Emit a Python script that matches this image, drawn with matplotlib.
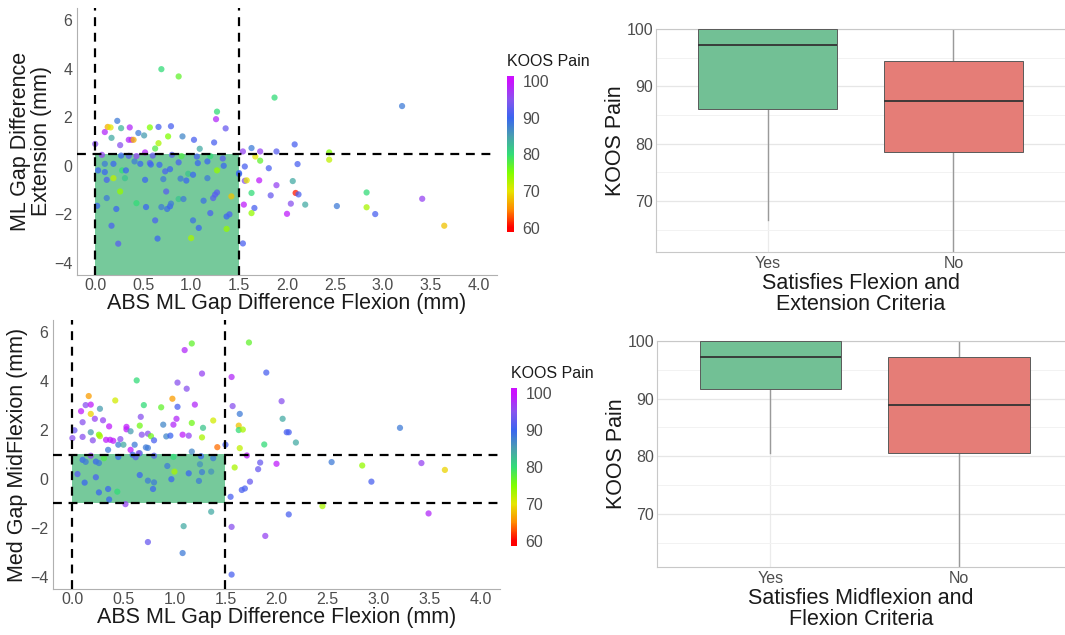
import numpy as np
import matplotlib
matplotlib.use("Agg")
import matplotlib.pyplot as plt
from matplotlib.colors import LinearSegmentedColormap
from matplotlib.patches import Rectangle

plt.rcParams['font.family'] = ['Liberation Sans', 'DejaVu Sans']

# ---- data: top scatter (ABS ML gap flexion vs ML gap extension) ----
ext_x = [0.69, 0.87, 1.27, 1.26, 1.36, 0.23, 0.10, 0.13, 0.16, 0.27, 0.36, 0.17, 0.26, 0.35, 0.38,
         0.40, 0.45, 0.51, 0.57, 0.66, 0.79, 0.76, 0.66, 0.625, 0.91, 1.03, 1.09, 1.24, 0.00, 0.52,
         1.87, 3.20, 2.08, 1.54, 1.63, 1.72, 1.89, 2.44, 2.44, 1.67, 1.72, 1.56, 2.11, 1.81, 1.50,
         1.56, 1.58, 1.71, 1.89, 2.06, 1.63, 1.83, 2.09, 2.12, 2.83, 3.41, 1.55, 1.66, 2.04, 2.19,
         2.52, 2.83, 1.63, 2.00, 2.92, 3.64, 1.54,
         0.03, 0.02, 0.10, 0.10, 0.12, 0.12, 0.19, 0.19, 0.22, 0.17, 0.24, 0.26, 0.28, 0.31, 0.32,
         0.35, 0.41, 0.43, 0.47, 0.52, 0.53, 0.57, 0.58, 0.625, 0.65, 0.67, 0.69, 0.71, 0.73, 0.74,
         0.75, 0.78, 0.79, 0.78, 0.87, 0.89, 0.87, 0.92, 0.95, 0.97, 1.00, 1.02, 1.02, 1.06, 1.07,
         1.08, 1.13, 1.17, 1.17, 1.20, 1.23, 1.25, 1.27, 1.27, 1.34, 1.37, 1.37, 1.42, 1.50, 1.40,
         0.07, 0.27, 0.43, 0.60, 0.80, 1.20, 1.33, 0.90]
ext_y = [3.98, 3.68, 2.23, 1.92, 1.54, 1.85, 1.39, 1.60, 1.58, 1.55, 1.58, 1.15, 0.85, 1.07, 1.07,
         1.07, 1.35, 1.25, 1.58, 1.60, 1.63, 1.21, 0.93, 0.71, 1.21, 1.07, 0.70, 0.96, 0.90, 0.55,
         2.81, 2.46, 0.88, 0.59, 0.73, 0.59, 0.59, 0.55, 0.25, 0.38, 0.21, -0.03, 0.07, -0.10, -0.34,
         -0.62, -0.60, -0.60, -0.80, -0.63, -1.12, -1.22, -1.12, -1.18, -1.10, -1.36, -1.60, -1.74, -1.56, -1.60,
         -1.66, -1.71, -1.95, -1.98, -1.99, -2.47, -3.20,
         -0.19, -1.65, 0.08, -0.26, -0.58, -1.33, -0.51, 0.08, -1.78, -2.47, -3.21, -1.06, -0.19, -0.51, -0.19,
         0.41, 0.18, -1.54, 0.08, -0.58, -1.70, 0.11, 0.05, -2.25, -3.00, 0.04, -1.70, -0.55, -0.23, -1.06,
         -1.78, -1.67, -1.56, -0.14, 0.14, -0.53, -1.37, -1.37, -0.61, -0.33, -2.98, -0.37, -2.25, 0.38, 0.11,
         -2.56, -1.44, -0.51, 0.18, -1.95, -1.33, -1.19, -1.10, -0.19, 0.00, -2.09, -2.60, -1.26, -0.30, -2.00,
         0.45, 0.42, 0.40, 0.42, 0.45, 0.40, 0.30, 0.40]
ext_koos = [80, 77, 80, 98, 93, 88, 98, 67, 70, 83, 98, 84, 95, 98, 98,
            67, 88, 85, 75, 91, 91, 75, 73, 78, 87, 91, 84, 91, 95, 98,
            80, 88, 91, 96, 88, 96, 92, 75, 72, 70, 77, 91, 91, 91, 90,
            95, 70, 99, 96, 84, 80, 93, 61, 91, 80, 96, 99, 91, 95, 84,
            88, 73, 74, 99, 91, 68, 91,
            90, 90, 88, 90, 91, 88, 72, 90, 90, 91, 92, 74, 80, 82, 90,
            92, 88, 80, 90, 90, 90, 92, 90, 91, 90, 90, 88, 88, 91, 92,
            89, 90, 88, 90, 91, 88, 82, 88, 90, 82, 73, 90, 89, 91, 90,
            90, 89, 88, 90, 91, 92, 92, 92, 74, 90, 90, 74, 68, 90, 91,
            96, 90, 96, 93, 92, 80, 92, 78]

# ---- data: bottom scatter (ABS ML gap flexion vs Med gap midflexion) ----
mid_x = [1.17, 1.10, 0.63, 1.27, 1.03, 1.12, 0.16, 0.98, 0.42, 0.13, 0.18, 0.27, 0.70, 0.87, 1.03,
         1.20, 0.085, 0.18, 0.22, 0.30, 0.10, 0.67, 1.02, 1.38, 1.17, 0.89, 0.99, 0.18, 0.36, 0.53,
         0.53, 0.66, 0.57, 1.28, 0.02, 0.00, 0.10, 0.26, 0.27, 0.20, 0.33, 0.37, 0.40, 0.47, 0.45,
         0.50, 0.61, 0.68, 0.74, 0.77, 0.80, 0.72, 0.74, 0.92, 0.96, 1.08, 1.14, 1.27, 0.57, 0.35,
         0.66, 1.42, 1.17, 1.50,
         1.73, 1.90, 1.56, 2.05, 1.57, 1.64, 2.06, 3.21, 1.63, 1.63, 1.67, 2.10, 2.12, 2.19, 1.88,
         1.64, 1.71, 1.59, 1.84, 1.82, 2.00, 2.54, 2.84, 3.42, 3.65, 1.74, 1.66, 1.69, 2.93, 1.55,
         2.45, 2.12, 3.49, 1.56, 1.89, 1.56, 0.52, 1.36, 1.09, 0.74, 1.08,
         0.10, 0.13, 0.23, 0.26, 0.31, 0.12, 0.23, 0.26, 0.35, 0.36, 0.44, 0.59, 0.62, 0.65, 0.66,
         0.74, 0.80, 0.79, 0.93, 0.97, 1.00, 0.99, 1.14, 1.24, 1.25, 1.27, 1.26, 1.36, 1.38,
         0.05, 0.45, 0.80, 0.18]
mid_y = [5.54, 5.27, 4.03, 4.31, 3.94, 3.69, 3.39, 3.28, 3.21, 3.02, 3.04, 2.87, 3.02, 2.93, 2.95,
         3.04, 2.77, 2.66, 2.46, 2.40, 2.32, 2.54, 2.46, 2.39, 2.29, 2.22, 2.22, 1.91, 2.15, 2.13,
         2.03, 2.18, 1.95, 2.09, 1.99, 1.67, 1.72, 1.81, 1.75, 1.58, 1.60, 1.60, 1.56, 1.63, 1.40,
         1.40, 1.40, 1.81, 1.85, 1.75, 1.58, 1.29, 1.27, 1.74, 1.77, 1.81, 1.77, 1.70, 1.19, 1.19,
         1.05, 1.30, 1.12, 1.40,
         5.58, 4.35, 4.17, 3.18, 2.98, 2.66, 2.46, 2.09, 2.18, 2.00, 2.02, 1.91, 1.91, 1.49, 1.41,
         1.26, 0.96, 0.47, 0.67, 0.40, 0.62, 0.69, 0.55, 0.65, 0.37, -0.11, -0.45, -0.39, -0.11, -0.73,
         -1.11, -1.45, -1.41, -1.96, -2.33, -3.91, -1.03, -1.34, -1.93, -2.58, -3.03,
         0.78, 0.70, 0.71, 0.65, 0.85, -0.15, 0.07, -0.55, -0.41, -0.84, -0.52, 0.99, 0.89, 1.05, 0.16,
         -0.07, -0.14, -0.41, 0.53, -0.01, 0.30, 0.90, 0.23, -0.08, 0.60, 0.28, 0.93, 0.30, 0.85,
         0.20, 0.90, 0.95, 0.95]
mid_koos = [77, 98, 80, 96, 95, 95, 66, 66, 71, 95, 99, 85, 80, 77, 91,
            98, 99, 69, 96, 96, 95, 95, 98, 71, 76, 87, 98, 85, 99, 99,
            99, 76, 85, 82, 93, 95, 95, 75, 73, 95, 99, 99, 99, 95, 88,
            84, 88, 95, 95, 76, 91, 88, 88, 87, 90, 99, 96, 73, 99, 88,
            88, 64, 87, 91,
            77, 91, 98, 95, 95, 88, 84, 88, 68, 80, 73, 91, 91, 84, 80,
            72, 99, 73, 93, 93, 99, 88, 74, 96, 69, 93, 91, 91, 91, 91,
            73, 91, 98, 95, 96, 91, 96, 84, 84, 93, 88,
            90, 88, 90, 88, 78, 90, 91, 90, 90, 90, 80, 90, 92, 95, 90,
            88, 88, 90, 88, 90, 73, 80, 90, 88, 86, 88, 90, 86, 88,
            92, 90, 92, 96]

# criteria thresholds
flex_limit = 1.5
ext_limit = 0.5
mid_limit = 1.0

# ---- data: boxplot summaries (KOOS Pain) ----
groups = ['Yes', 'No']
box1_med = [97.2, 87.5]
box1_q1 = [86.0, 78.5]
box1_q3 = [100.0, 94.5]
box1_lo = [66.7, 40.0]
box1_hi = [100.0, 100.0]

box2_med = [97.2, 88.9]
box2_q1 = [91.7, 80.6]
box2_q3 = [100.0, 97.2]
box2_lo = [80.5, 40.0]
box2_hi = [100.0, 100.0]

W, H = 1065, 635
fig = plt.figure(figsize=(W / 100, H / 100), dpi=100)

def px_axes(x0, y0, x1, y1):
    return fig.add_axes([x0 / W, 1 - y1 / H, (x1 - x0) / W, (y1 - y0) / H])

koos_cmap = LinearSegmentedColormap.from_list('koos', [
    (0.000, '#FF0000'), (0.125, '#FF8C00'), (0.250, '#E6E600'), (0.375, '#80FF00'),
    (0.500, '#33DD77'), (0.625, '#4A9FB0'), (0.750, '#3A66F0'), (0.875, '#8855EE'),
    (1.000, '#CC11FF')])

grey_txt = '#4D4D4D'

def scatter_panel(ax, xs, ys, cs, y_low, y_high, ylabel):
    ax.set_xlim(-0.19, 4.19)
    ax.set_ylim(-4.5, 6.5)
    # acceptable region
    ax.add_patch(Rectangle((0, y_low), flex_limit, y_high - y_low,
                           facecolor='#3CB371', alpha=0.7, edgecolor='none', zorder=1))
    ax.scatter(xs, ys, c=cs, cmap=koos_cmap, vmin=60, vmax=100, s=20, alpha=0.75,
               linewidths=0, zorder=2)
    for xv in [0, flex_limit]:
        ax.axvline(xv, color='black', lw=1.6, dashes=(4, 3), zorder=3)
    for sp in ['top', 'right']:
        ax.spines[sp].set_visible(False)
    for sp in ['left', 'bottom']:
        ax.spines[sp].set_color('#B0B0B0')
    ax.set_xticks([0, 0.5, 1, 1.5, 2, 2.5, 3, 3.5, 4])
    ax.set_xticklabels(['0.0', '0.5', '1.0', '1.5', '2.0', '2.5', '3.0', '3.5', '4.0'])
    ax.set_yticks([-4, -2, 0, 2, 4, 6])
    ax.tick_params(length=0, labelsize=11.5, labelcolor=grey_txt, pad=3.5)
    ax.tick_params(axis='x', pad=2.5)
    ax.set_xlabel('ABS ML Gap Difference Flexion (mm)', fontsize=15.5, color='#1A1A1A', labelpad=0)
    ax.set_ylabel(ylabel, fontsize=15.5, color='#1A1A1A', labelpad=1, linespacing=1.0)

def colorbar_panel(cax, y_lo, y_hi, title_xy):
    grad = np.linspace(y_lo, y_hi, 256).reshape(-1, 1)
    cax.imshow(grad, extent=[0, 1, y_lo, y_hi], origin='lower', aspect='auto',
               cmap=koos_cmap, vmin=60, vmax=100)
    cax.set_xlim(0, 1)
    cax.set_ylim(y_lo, y_hi)
    cax.set_xticks([])
    cax.set_yticks([60, 70, 80, 90, 100])
    cax.yaxis.tick_right()
    cax.tick_params(length=0, labelsize=11.5, labelcolor=grey_txt, pad=6)
    for sp in cax.spines.values():
        sp.set_visible(False)
    fig.text(title_xy[0] / W, 1 - title_xy[1] / H, 'KOOS Pain', fontsize=11.5,
             ha='left', va='center', color='#1A1A1A')

def box_panel(ax, med, q1, q3, lo, hi, ylim, xlim, xlabel):
    stats = []
    for i in range(len(groups)):
        stats.append({'med': med[i], 'q1': q1[i], 'q3': q3[i],
                      'whislo': lo[i], 'whishi': hi[i], 'fliers': [], 'label': groups[i]})
    ax.set_ylim(*ylim)
    ax.set_xlim(*xlim)
    ax.set_yticks([70, 80, 90, 100])
    ax.set_yticks([65, 75, 85, 95], minor=True)
    ax.grid(True, which='major', axis='y', color='#E6E6E6', lw=0.9, zorder=0)
    ax.grid(True, which='minor', axis='y', color='#F2F2F2', lw=0.7, zorder=0)
    ax.grid(True, which='major', axis='x', color='#EBEBEB', lw=0.9, zorder=0)
    ax.set_axisbelow(True)
    bp = ax.bxp(stats, positions=[1, 2], widths=0.75, patch_artist=True, showcaps=False,
                boxprops=dict(edgecolor='#5A5A5A', lw=0.7),
                whiskerprops=dict(color='#9A9A9A', lw=1.0),
                medianprops=dict(color='#333333', lw=1.3))
    for patch, col in zip(bp['boxes'], ['#72C095', '#E57D77']):
        patch.set_facecolor(col)
        patch.set_zorder(3)
    for ln in bp['medians']:
        ln.set_zorder(4)
    ax.spines['right'].set_visible(False)
    for sp in ['left', 'bottom', 'top']:
        ax.spines[sp].set_color('#C8C8C8')
    ax.tick_params(which='both', length=0, labelsize=11.5, labelcolor=grey_txt)
    ax.tick_params(axis='y', pad=2)
    ax.tick_params(axis='x', pad=3)
    ax.set_ylabel('KOOS Pain', fontsize=15.5, color='#1A1A1A', labelpad=0.5)
    ax.set_xlabel(xlabel, fontsize=15.5, color='#1A1A1A', labelpad=1, linespacing=1.05)

# top-left scatter
ax1 = px_axes(77, 8, 497, 275)
scatter_panel(ax1, ext_x, ext_y, ext_koos, -4.5, ext_limit, 'ML Gap Difference\nExtension (mm)')
ax1.axhline(ext_limit, color='black', lw=1.6, dashes=(4, 3), zorder=3)

# bottom-left scatter
ax2 = px_axes(53, 320, 500, 589)
scatter_panel(ax2, mid_x, mid_y, mid_koos, -mid_limit, mid_limit, 'Med Gap MidFlexion (mm)')
for yv in [-mid_limit, mid_limit]:
    ax2.axhline(yv, color='black', lw=1.6, dashes=(4, 3), zorder=3)

# colour bars
cax1 = px_axes(507, 76, 514, 232)
colorbar_panel(cax1, 58.9, 101.3, (507, 61))
cax2 = px_axes(511, 388, 517, 546)
colorbar_panel(cax2, 58.65, 101.35, (511, 373))

# boxplots
bx1 = px_axes(656, 29, 1065, 252)
box_panel(bx1, box1_med, box1_q1, box1_q3, box1_lo, box1_hi, (61.1, 100), (0.4, 2.6),
          'Satisfies Flexion and\nExtension Criteria')
bx2 = px_axes(657, 341, 1065, 567)
box_panel(bx2, box2_med, box2_q1, box2_q3, box2_lo, box2_hi, (60.8, 100), (0.4, 2.56),
          'Satisfies Midflexion and\nFlexion Criteria')

fig.savefig('out.png', dpi=100)
